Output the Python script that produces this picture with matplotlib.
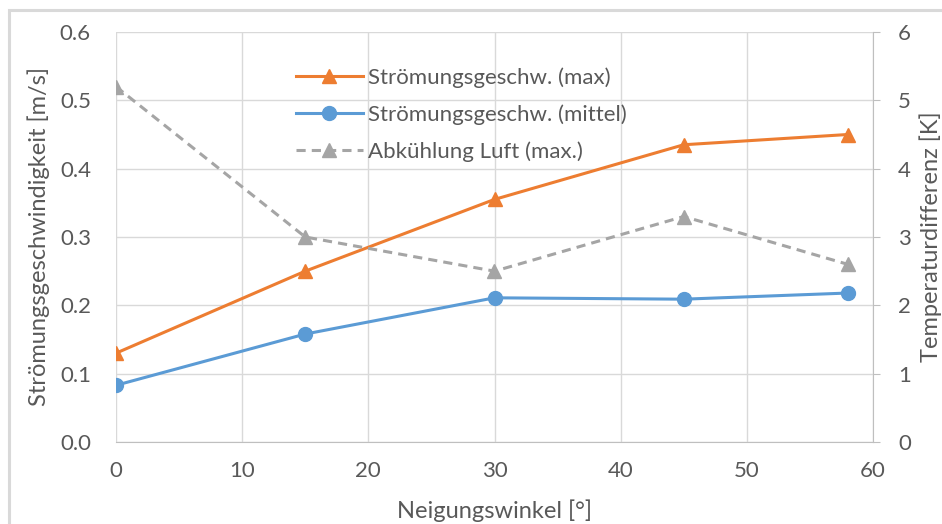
import numpy as np
import matplotlib.pyplot as plt
from matplotlib.patches import Rectangle

plt.rcParams['font.family'] = ['Lato', 'DejaVu Sans']

# Messwerte
winkel = [0, 15, 30, 45, 58]
v_max = [0.13, 0.25, 0.355, 0.435, 0.45]
v_mittel = [0.083, 0.158, 0.211, 0.209, 0.218]
dT_luft = [5.2, 3.0, 2.5, 3.3, 2.6]

x_ticks = [0, 10, 20, 30, 40, 50, 60]
y_ticks = [0.0, 0.1, 0.2, 0.3, 0.4, 0.5, 0.6]
y2_ticks = [0, 1, 2, 3, 4, 5, 6]

orange = '#ED7D31'
blau = '#5B9BD5'
grau = '#A5A5A5'
text_c = '#595959'
gitter = '#D9D9D9'

fig = plt.figure(figsize=(9.42, 5.24), dpi=100)
fig.patches.append(Rectangle((9 / 942, -0.1), 1.2, 1 - 10 / 524 + 0.1, transform=fig.transFigure,
                             fill=False, edgecolor='#D9D9D9', lw=2.2))

ax = fig.add_axes([116 / 942, 1 - 442 / 524, (873 - 116) / 942, (442 - 32) / 524])
ax2 = ax.twinx()

l1, = ax.plot(winkel, v_max, color=orange, lw=2.2, marker='^', ms=10, label='Strömungsgeschw. (max)', zorder=3)
l2, = ax.plot(winkel, v_mittel, color=blau, lw=2.2, marker='o', ms=10, label='Strömungsgeschw. (mittel)', zorder=3)
l3, = ax2.plot(winkel, dT_luft, color=grau, lw=2.2, ls=(0, (3, 2)), marker='^', ms=10, label='Abkühlung Luft (max.)')

ax.set_xlim(0, 60)
ax.set_ylim(0, 0.6)
ax2.set_ylim(0, 6)
ax.set_xticks(x_ticks)
ax.set_yticks(y_ticks)
ax.set_yticklabels(['%.1f' % t for t in y_ticks])
ax2.set_yticks(y2_ticks)

ax.grid(True, color=gitter, lw=1)
ax.set_axisbelow(True)

for s in ['top', 'left', 'right']:
    ax.spines[s].set_visible(False)
ax.spines['bottom'].set_color('#BFBFBF')
for s in ['top', 'left', 'bottom']:
    ax2.spines[s].set_visible(False)
ax2.spines['right'].set_color('#BFBFBF')

ax.tick_params(axis='x', length=0, pad=14, labelsize=16, labelcolor=text_c)
ax.tick_params(axis='y', length=0, pad=18, labelsize=16, labelcolor=text_c)
ax2.tick_params(axis='y', length=5, color='#BFBFBF', pad=13, labelsize=16, labelcolor=text_c)

ax.set_xlabel('Neigungswinkel [°]', fontsize=17, color=text_c, labelpad=13)
ax.set_ylabel('Strömungsgeschwindigkeit [m/s]', fontsize=17, color=text_c, labelpad=7)
ax2.set_ylabel('Temperaturdifferenz [K]', fontsize=17, color=text_c, labelpad=6)

ax.legend(handles=[l1, l2, l3], loc='upper left', bbox_to_anchor=(276 / 942, 1 - 47 / 524),
          bbox_transform=fig.transFigure, frameon=False, fontsize=16, labelcolor=text_c,
          handlelength=3.0, handletextpad=0.25, labelspacing=0.75)

fig.savefig('out.png', dpi=100)
